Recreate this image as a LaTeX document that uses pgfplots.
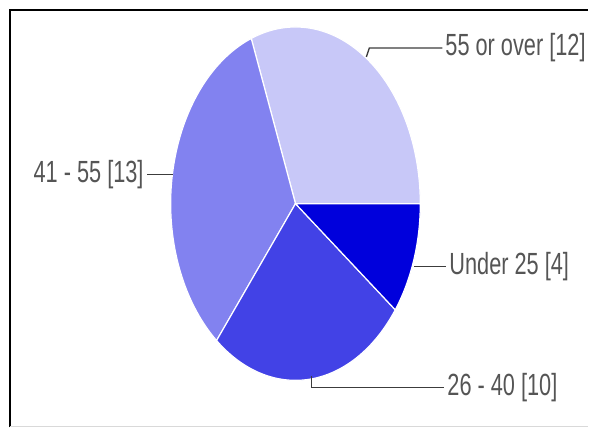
\documentclass[border=0pt]{standalone}
\usepackage{pgfplots}
\usepackage{pgfplotstable}
\usepackage{fontspec}
\setmainfont{Liberation Sans}
\pgfplotsset{compat=1.18}

\definecolor{sliceA}{RGB}{200,200,248}
\definecolor{sliceB}{RGB}{130,130,240}
\definecolor{sliceC}{RGB}{66,66,230}
\definecolor{sliceD}{RGB}{0,0,220}
\definecolor{labelgray}{RGB}{85,85,85}
\definecolor{leader}{RGB}{60,60,60}

% slices counter-clockwise from 3 o'clock
\pgfplotstableread{
value
12
13
10
4
}\agedata

\pgfplotstablegetelem{0}{value}\of\agedata \let\vA\pgfplotsretval
\pgfplotstablegetelem{1}{value}\of\agedata \let\vB\pgfplotsretval
\pgfplotstablegetelem{2}{value}\of\agedata \let\vC\pgfplotsretval
\pgfplotstablegetelem{3}{value}\of\agedata \let\vD\pgfplotsretval
\pgfmathsetmacro\total{\vA+\vB+\vC+\vD}
\pgfmathsetmacro\aA{360*\vA/\total}
\pgfmathsetmacro\aB{\aA+360*\vB/\total}
\pgfmathsetmacro\aC{\aB+360*\vC/\total}

\begin{document}
\begin{tikzpicture}[
    lbl/.style={font=\fontsize{23}{23}\selectfont, text=labelgray, xscale=0.71, inner sep=0pt},
    wedge/.style={draw=white, line width=0.9pt},
    pie/.style={x radius=93.75pt, y radius=132.75pt}
]
\begin{axis}[
    scale only axis,
    width=441.75pt,
    height=321pt,
    xmin=0, xmax=589,
    ymin=0, ymax=428,
    y dir=reverse,
    hide axis,
    clip=false
]
  \path (axis cs:0,0) rectangle (axis cs:589,428);
  % frame
  \draw[line width=1.5pt] (axis cs:10,428) -- (axis cs:10,10) -- (axis cs:589,10);
  \draw[black!15, line width=0.8pt] (axis cs:10,427.5) -- (axis cs:589,427.5);

  \filldraw[fill=sliceA, wedge] (axis cs:296,204) -- ++(0:93.75pt and 132.75pt)
     arc[pie, start angle=0, end angle=\aA] -- cycle;
  \filldraw[fill=sliceB, wedge] (axis cs:296,204) -- ++(\aA:93.75pt and 132.75pt)
     arc[pie, start angle=\aA, end angle=\aB] -- cycle;
  \filldraw[fill=sliceC, wedge] (axis cs:296,204) -- ++(\aB:93.75pt and 132.75pt)
     arc[pie, start angle=\aB, end angle=\aC] -- cycle;
  \filldraw[fill=sliceD, wedge] (axis cs:296,204) -- ++(\aC:93.75pt and 132.75pt)
     arc[pie, start angle=\aC, end angle=360] -- cycle;

  % leaders and labels
  \draw[leader, line width=1pt] (axis cs:367,57) -- (axis cs:370,48) -- (axis cs:443,48);
  \node[lbl, anchor=west] at (axis cs:446,48) {55 or over [\vA]};
  \draw[leader, line width=1pt] (axis cs:173,175) -- (axis cs:147,175);
  \node[lbl, anchor=east] at (axis cs:144,175) {41 - 55 [\vB]};
  \draw[leader, line width=1pt] (axis cs:312,377) -- (axis cs:312,388) -- (axis cs:445,388);
  \node[lbl, anchor=west] at (axis cs:448,388) {26 - 40 [\vC]};
  \draw[leader, line width=1pt] (axis cs:415,267) -- (axis cs:447,267);
  \node[lbl, anchor=west] at (axis cs:450,267) {Under 25 [\vD]};
\end{axis}
\end{tikzpicture}
\end{document}
